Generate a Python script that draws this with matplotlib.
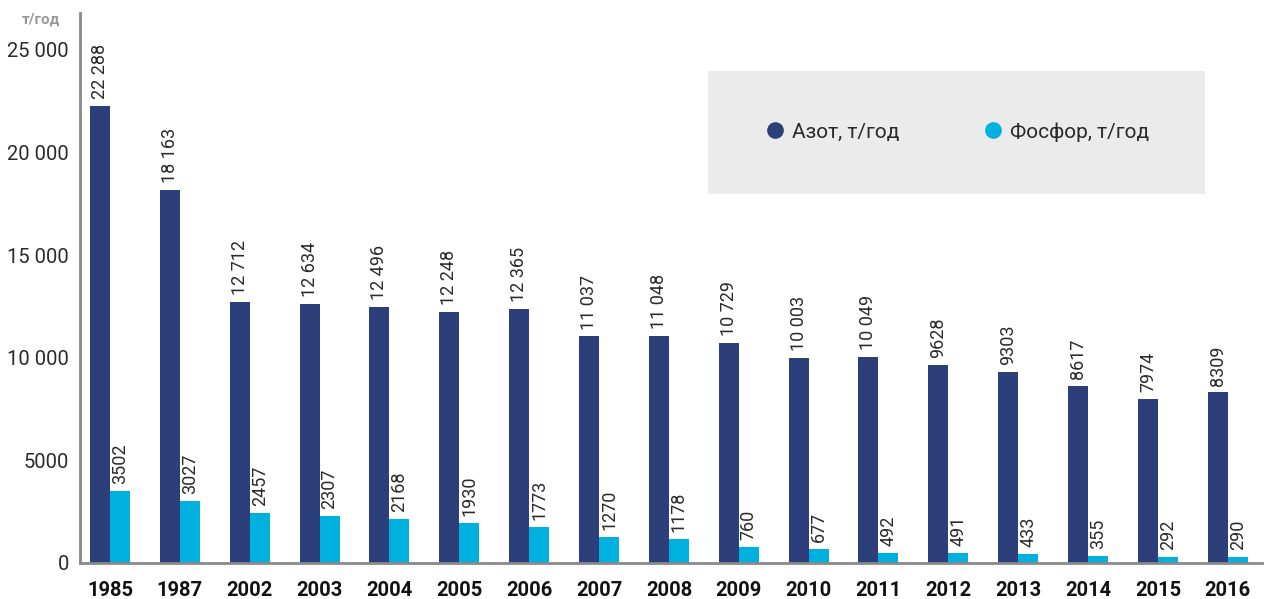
import numpy as np
import matplotlib.pyplot as plt
from matplotlib.lines import Line2D
from matplotlib.patches import Rectangle

plt.rcParams['font.family'] = ['Roboto', 'DejaVu Sans']

years = ['1985', '1987', '2002', '2003', '2004', '2005', '2006', '2007', '2008',
         '2009', '2010', '2011', '2012', '2013', '2014', '2015', '2016']
nitrogen = [22288, 18163, 12712, 12634, 12496, 12248, 12365, 11037, 11048,
            10729, 10003, 10049, 9628, 9303, 8617, 7974, 8309]
phosphorus = [3502, 3027, 2457, 2307, 2168, 1930, 1773, 1270, 1178,
              760, 677, 492, 491, 433, 355, 292, 290]
y_ticks = [0, 5000, 10000, 15000, 20000, 25000]
y_tick_labels = ['0', '5000', '10 000', '15 000', '20 000', '25 000']

navy = '#2c3f7a'
cyan = '#00b0de'

def fmt(v):
    # numbers above 9999 get a space as thousands separator
    return '{:,}'.format(v).replace(',', ' ') if v >= 10000 else str(v)

fig = plt.figure(figsize=(12.65, 5.99), dpi=100)
ax = fig.add_axes([80 / 1265, 36 / 599, 1182 / 1265, 550 / 599])

x = np.arange(len(years))
w = 0.286
b1 = ax.bar(x - w / 2, nitrogen, w, color=navy)
b2 = ax.bar(x + w / 2, phosphorus, w, color=cyan)

for bars, vals in ((b1, nitrogen), (b2, phosphorus)):
    for r, v in zip(bars, vals):
        ax.annotate(fmt(v), (r.get_x() + r.get_width() / 2, r.get_height()),
                    xytext=(0, 5), textcoords='offset points', rotation=90,
                    ha='center', va='bottom', fontsize=13, color='#2a2a2a')

ax.set_xlim(-0.43, 16.49)
ax.set_ylim(0, 26800)
ax.set_xticks(x)
ax.set_xticklabels(years, fontsize=14.5, fontweight='bold', color='#111111')
ax.set_yticks(y_ticks)
ax.set_yticklabels(y_tick_labels, fontsize=14.5, color='#2a2a2a')
ax.tick_params(axis='both', length=0)
ax.tick_params(axis='x', pad=13)
ax.tick_params(axis='y', pad=8)

for s in ('top', 'right'):
    ax.spines[s].set_visible(False)
for s in ('left', 'bottom'):
    ax.spines[s].set_color('#8a8a8a')
    ax.spines[s].set_linewidth(2)

fig.text(22 / 1265, 1 - 20 / 599, 'т/год', fontsize=11, fontweight='bold',
         color='#999999', va='center', ha='left')

# legend box
box = Rectangle((708 / 1265, 1 - 194 / 599), 497 / 1265, 123 / 599,
                transform=fig.transFigure, facecolor='#ebebeb', edgecolor='none',
                zorder=3)
fig.patches.append(box)
handles = [Line2D([], [], marker='o', linestyle='none', markersize=11, color=navy),
           Line2D([], [], marker='o', linestyle='none', markersize=11, color=cyan)]
leg = fig.legend(handles, ['Азот, т/год', 'Фосфор, т/год'], loc='center',
                 bbox_to_anchor=(957 / 1265, 1 - 132 / 599), ncol=2, frameon=False,
                 fontsize=15, handletextpad=0.3, columnspacing=4.0,
                 handlelength=1.0)
for t in leg.get_texts():
    t.set_color('#2a2a2a')
leg.set_zorder(4)

fig.savefig('out.png', dpi=100)
